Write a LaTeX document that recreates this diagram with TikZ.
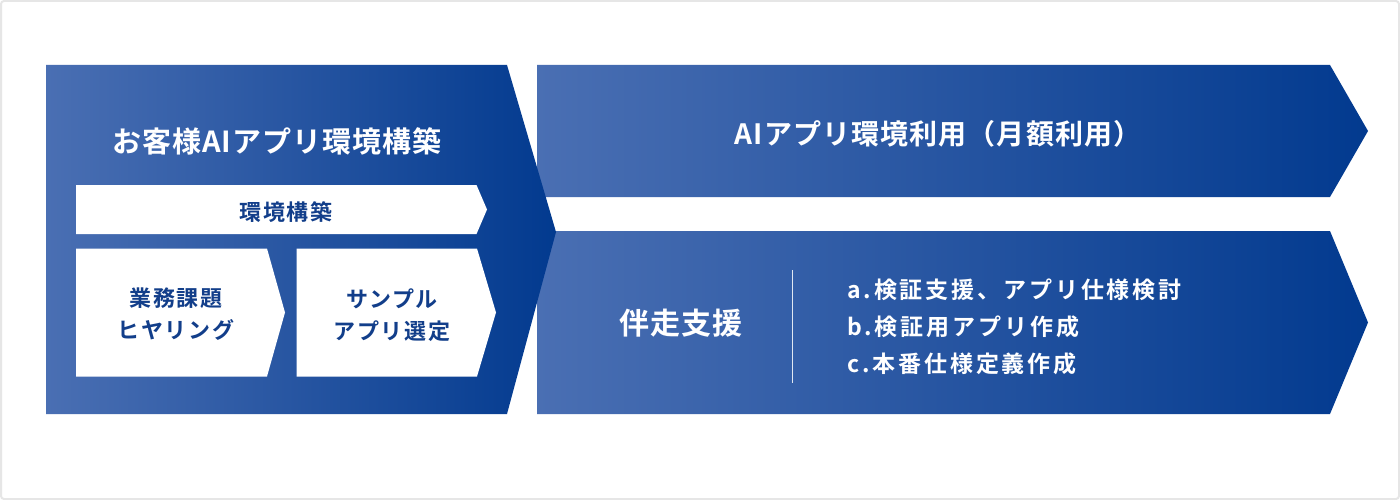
\documentclass[tikz,border=0pt]{standalone}
\usepackage{fontspec}
\setmainfont{Noto Sans CJK JP}
\newfontfamily\jpb{Noto Sans CJK JP Bold}
\definecolor{lightblue}{HTML}{4A6FB3}
\definecolor{darkblue}{HTML}{023A8F}
\definecolor{txtblue}{HTML}{123E8A}
\definecolor{framegray}{HTML}{E6E6E6}
\tikzset{
  band/.style={left color=lightblue, right color=darkblue},
  whitebox/.style={fill=white},
  bigtitle/.style={text=white, inner sep=0pt, font=\jpb\fontsize{29}{34}\selectfont\addfontfeature{LetterSpace=3.5}},
  suptitle/.style={text=white, inner sep=0pt, font=\jpb\fontsize{30}{34}\selectfont\addfontfeature{LetterSpace=4}},
  midtitle/.style={text=white, inner sep=0pt, font=\jpb\fontsize{28}{32}\selectfont\addfontfeature{LetterSpace=4}},
  boxtext/.style={text=txtblue, inner sep=0pt, align=center, font=\jpb\fontsize{22}{32}\selectfont\addfontfeature{LetterSpace=7}},
  bartext/.style={text=txtblue, inner sep=0pt, font=\jpb\fontsize{22}{32}\selectfont\addfontfeature{LetterSpace=8}},
  listtext/.style={text=white, inner sep=0pt, align=left, font=\jpb\fontsize{23}{37}\selectfont\addfontfeature{LetterSpace=12.5}},
}
\begin{document}
\begin{tikzpicture}[x=1pt,y=-1pt]
\path[use as bounding box] (0,0) rectangle (1400,500);
\draw[line width=2pt, draw=framegray, fill=white, rounded corners=3pt] (1,1) rectangle (1399,499);
% right bands
\shade[band] (537,65) -- (1330,65) -- (1368,131) -- (1330,197) -- (537,197) -- cycle;
\shade[band] (537,231) -- (1330,231) -- (1368,322.5) -- (1330,414) -- (537,414) -- cycle;
% left band
\shade[band] (46,65) -- (507,65) -- (556,232) -- (507,414) -- (46,414) -- cycle;
% white boxes
\fill[whitebox] (76,185) -- (476.5,185) -- (487,209.5) -- (476.5,234) -- (76,234) -- cycle;
\fill[whitebox] (76,248.5) -- (267,248.5) -- (285,312.5) -- (267,376.5) -- (76,376.5) -- cycle;
\fill[whitebox] (296.5,248.5) -- (477,248.5) -- (496,312.5) -- (477,376.5) -- (296.5,376.5) -- cycle;
% texts
\node[bigtitle] (t1) at (277,141) {お客様AIアプリ環境構築};
\node[bartext] (t2) at (286,212) {環境構築};
\node[boxtext] (t3) at (176,314) {業務課題\\ヒヤリング};
\node[boxtext] (t4) at (392,315) {サンプル\\アプリ選定};
\node[midtitle] (t5) at (938,134) {AIアプリ環境利用（月額利用）};
\node[suptitle] (t6) at (681,323) {伴走支援};
\coordinate (v1) at (792,270);
\coordinate (v2) at (792,383);
\draw[white, line width=1pt, opacity=0.85] (v1) -- (v2);
\node[listtext, anchor=west] (t7) at (847,327) {a.検証支援、アプリ仕様検討\\b.検証用アプリ作成\\c.本番仕様定義作成};
\end{tikzpicture}
\end{document}
